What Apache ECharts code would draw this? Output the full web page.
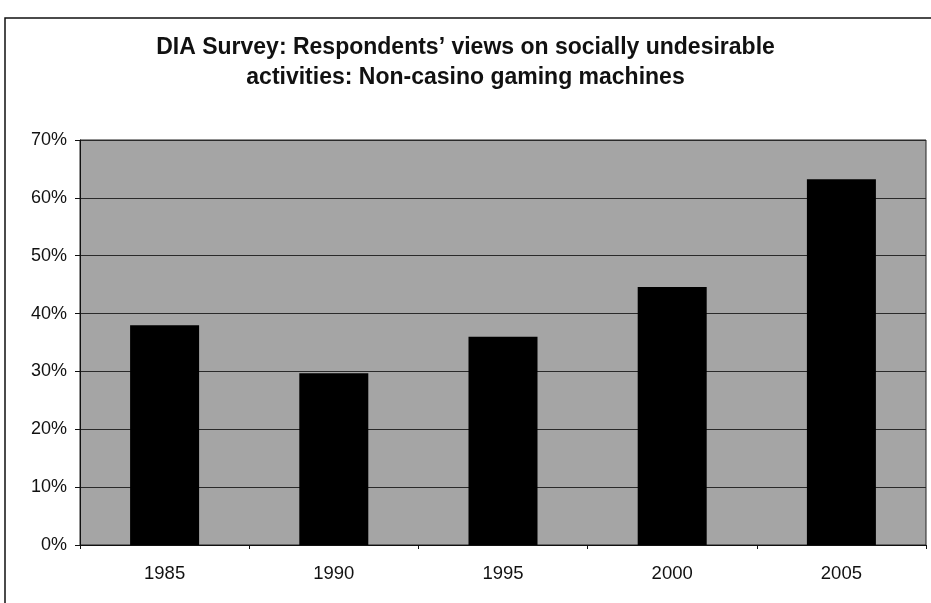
<!DOCTYPE html>
<html>
<head>
<meta charset="utf-8">
<script src="https://cdn.jsdelivr.net/npm/echarts@6/dist/echarts.min.js"></script>
<style>
  html, body { margin: 0; padding: 0; background: #fff; }
  #chart { width: 931px; height: 603px; }
</style>
</head>
<body>
<div id="chart"></div>
<script>
// Survey years and share of respondents (%) who consider the activity undesirable
const years = ['1985', '1990', '1995', '2000', '2005'];
const shares = [38, 29.7, 36, 44.6, 63.2];
const yTicks = [0, 10, 20, 30, 40, 50, 60, 70];

const chart = echarts.init(document.getElementById('chart'));
const font = '"Liberation Sans", Arial, sans-serif';

chart.setOption({
  animation: false,
  backgroundColor: '#ffffff',
  title: {
    text: 'DIA Survey: Respondents\u2019 views on socially undesirable\nactivities: Non-casino gaming machines',
    left: 'center',
    top: 28,
    textStyle: {
      fontFamily: font,
      fontSize: 23,
      fontWeight: 'bold',
      color: '#111',
      lineHeight: 30
    }
  },
  graphic: [{
    type: 'rect',
    shape: { x: 5, y: 18, width: 960, height: 640 },
    style: { fill: 'none', stroke: '#111', lineWidth: 1.5 },
    z: 100,
    silent: true
  }],
  grid: {
    left: 80,
    right: 5,
    top: 140,
    bottom: 58,
    show: true,
    backgroundColor: '#a5a5a5',
    borderColor: '#222',
    borderWidth: 1
  },
  xAxis: {
    type: 'category',
    data: years,
    axisLine: { lineStyle: { color: '#111', width: 1 } },
    axisTick: { show: true, length: 4, lineStyle: { color: '#111' } },
    axisLabel: {
      fontFamily: font,
      fontSize: 18.5,
      color: '#111',
      margin: 19
    }
  },
  yAxis: {
    type: 'value',
    min: yTicks[0],
    max: yTicks[yTicks.length - 1],
    interval: 10,
    axisLine: { show: true, lineStyle: { color: '#111', width: 1 } },
    axisTick: { show: true, length: 5, lineStyle: { color: '#111' } },
    axisLabel: {
      fontFamily: font,
      fontSize: 18,
      color: '#111',
      margin: 13,
      formatter: v => v + '%'
    },
    splitLine: { show: true, lineStyle: { color: '#2a2a2a', width: 1 } }
  },
  series: [{
    type: 'bar',
    data: shares,
    barWidth: 69,
    itemStyle: { color: '#000000' }
  }]
});
</script>
</body>
</html>
